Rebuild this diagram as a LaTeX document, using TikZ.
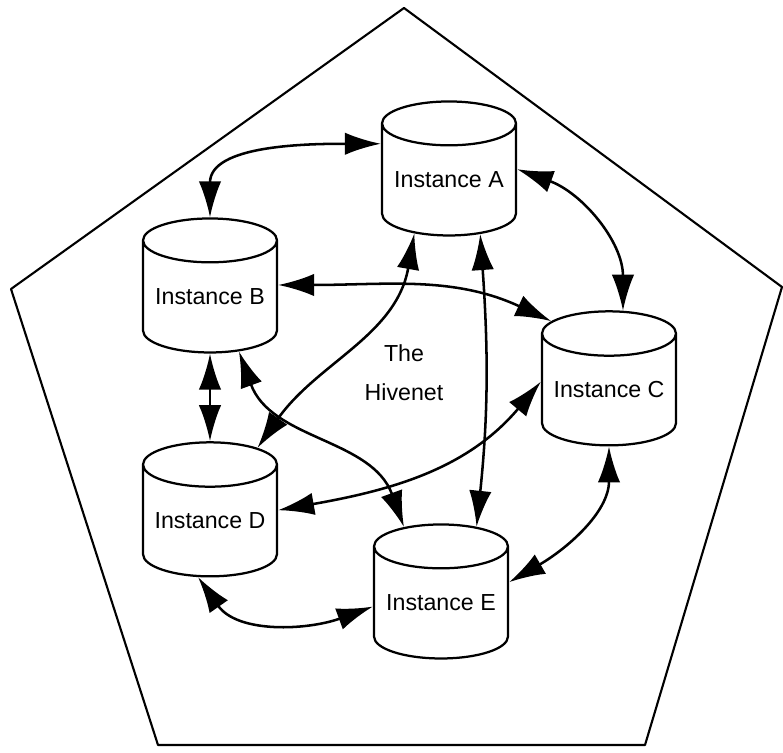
\documentclass[tikz,border=0pt]{standalone}
\usepackage{fontspec}
\setmainfont{Liberation Sans}
\usetikzlibrary{arrows.meta,shapes.geometric}
\begin{document}
\begin{tikzpicture}[line join=round,
	inst/.style={draw, line width=1.6pt, cylinder, shape border rotate=90, aspect=0.4,
		minimum width=3.35cm, minimum height=3.35cm, inner sep=0pt, font=\fontsize{16.5}{20}\selectfont},
	tip/.tip={Latex[length=9mm,width=5.6mm]},
	link/.style={tip-tip, line width=1.8pt}]
	\useasboundingbox (0,0) rectangle (19.575,18.825);
	% the hive
	\draw[line width=1.5pt] (10.1,18.625)--(19.55,11.65)--(16.125,0.2)--(3.95,0.2)--(0.275,11.6)--cycle;
	\node[align=center, font=\fontsize{16.5}{28}\selectfont] (hive) at (10.1,9.5) {The\\Hivenet};
	
	\node[inst] (A) at (11.225,14.325) {Instance A};
	\node[inst] (B) at (5.25,11.4) {Instance B};
	\node[inst] (C) at (15.225,9.075) {Instance C};
	\node[inst] (D) at (5.25,5.8) {Instance D};
	\node[inst] (E) at (11.025,3.75) {Instance E};
	
	\draw[link] (A.152) to[out=180,in=90] (B.90);
	\draw[link] (A.9) to[out=-20,in=90] (C.80);
	\draw[link] (B.10) to[out=0,in=155] (C.130);
	\draw[link] (B.-90) -- (D.90);
	\draw[link] (B.-62) to[out=-70,in=110] (E.116);
	\draw[link] (A.-123) to[out=-100,in=55] (D.57);
	\draw[link] (A.-60) to[out=-86,in=84] (E.65);
	\draw[link] (C.173) to[out=-130,in=10] (D.9);
	\draw[link] (C.-90) to[out=-90,in=30] (E.17);
	\draw[link] (D.-102) to[out=-55,in=200] (E.183);
\end{tikzpicture}
\end{document}
